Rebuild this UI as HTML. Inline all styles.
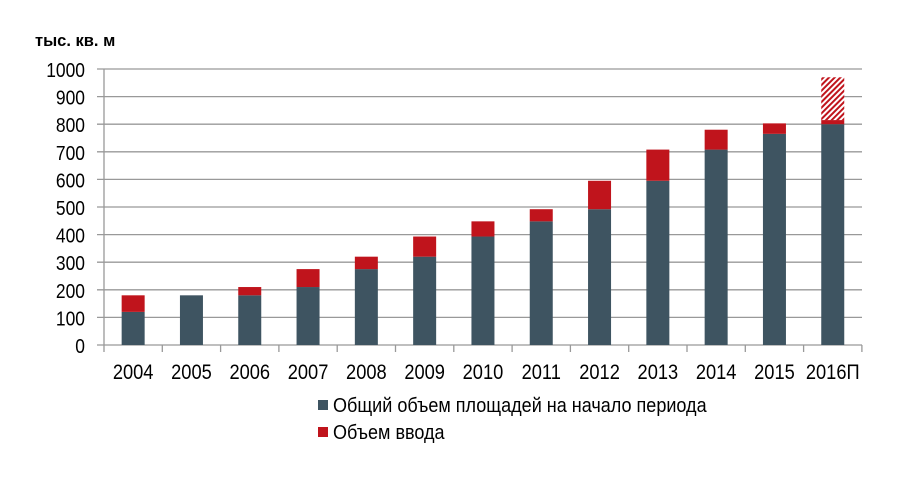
<!DOCTYPE html>
<html><head><meta charset="utf-8"><style>
html,body{margin:0;padding:0;background:#fff;}
svg text{font-family:"Liberation Sans",Arial,sans-serif;fill:#000;}
</style></head><body>
<svg width="917" height="482" xmlns="http://www.w3.org/2000/svg">
<defs>
<pattern id="h" width="4" height="4" patternUnits="userSpaceOnUse" patternTransform="rotate(45)">
<rect width="4" height="4" fill="#fff"/><rect width="2" height="4" fill="#c0141c"/>
</pattern>
</defs>
<text x="35" y="46" font-size="16.5" font-weight="bold">тыс. кв. м</text>
<g stroke="#999" stroke-width="1.3">
<line x1="97" x2="862" y1="69" y2="69"/>
<line x1="97" x2="862" y1="96.6" y2="96.6"/>
<line x1="97" x2="862" y1="124.2" y2="124.2"/>
<line x1="97" x2="862" y1="151.8" y2="151.8"/>
<line x1="97" x2="862" y1="179.4" y2="179.4"/>
<line x1="97" x2="862" y1="207" y2="207"/>
<line x1="97" x2="862" y1="234.6" y2="234.6"/>
<line x1="97" x2="862" y1="262.2" y2="262.2"/>
<line x1="97" x2="862" y1="289.8" y2="289.8"/>
<line x1="97" x2="862" y1="317.4" y2="317.4"/>
<line x1="97" x2="862" y1="345" y2="345"/>
<line x1="104" x2="104" y1="69" y2="352"/>
</g>
<g stroke="#999" stroke-width="1.3" id="ticks"></g>
<g font-size="20.5" text-anchor="end" transform="translate(85,0) scale(0.85,1)">
<text x="0" y="77">1000</text><text x="0" y="104.6">900</text><text x="0" y="132.2">800</text>
<text x="0" y="159.8">700</text><text x="0" y="187.4">600</text><text x="0" y="215">500</text>
<text x="0" y="242.6">400</text><text x="0" y="270.2">300</text><text x="0" y="297.8">200</text>
<text x="0" y="325.4">100</text><text x="0" y="353">0</text>
</g>
<g id="bars"></g>
<g id="lbl" font-size="21.5" text-anchor="middle"></g>
<rect x="318" y="400" width="10" height="10" fill="#3e5461"/>
<text x="333" y="412" font-size="20.5" transform="translate(333,0) scale(0.88,1) translate(-333,0)">Общий объем площадей на начало периода</text>
<rect x="318" y="427" width="10" height="10" fill="#c0141c"/>
<text x="333" y="439" font-size="20.5" transform="translate(333,0) scale(0.88,1) translate(-333,0)">Объем ввода</text>
<script>
var d=[[120,180],[180,180],[180,210],[210,275],[275,320],[320,393],[393,448],[448,492],[492,595],[595,708],[708,780],[765,803],[800,815]];
var lab=["2004","2005","2006","2007","2008","2009","2010","2011","2012","2013","2014","2015","2016П"];
var ns="http://www.w3.org/2000/svg",b=document.getElementById("bars"),t=document.getElementById("ticks"),l=document.getElementById("lbl");
function y(v){return 345-v*0.276;}
function r(x,y0,w,h,f){var e=document.createElementNS(ns,"rect");e.setAttribute("x",x);e.setAttribute("y",y0);e.setAttribute("width",w);e.setAttribute("height",h);e.setAttribute("fill",f);b.appendChild(e);}
for(var i=0;i<13;i++){var c=104+58.3*(i+0.5),x=c-11.5;
r(x,y(d[i][0]),23,d[i][0]*0.276,"#3e5461");
if(d[i][1]>d[i][0])r(x,y(d[i][1]),23,(d[i][1]-d[i][0])*0.276,"#c0141c");
if(i==12)r(x,y(970),23,(970-815)*0.276,"url(#h)");
var tk=document.createElementNS(ns,"line");var tx=104+58.3*(i+1);tk.setAttribute("x1",tx);tk.setAttribute("x2",tx);tk.setAttribute("y1",345);tk.setAttribute("y2",352);t.appendChild(tk);
var tt=document.createElementNS(ns,"text");tt.setAttribute("transform","translate("+c+",379) scale(0.85,1)");tt.textContent=lab[i];l.appendChild(tt);}
</script>
</svg>
</body></html>
